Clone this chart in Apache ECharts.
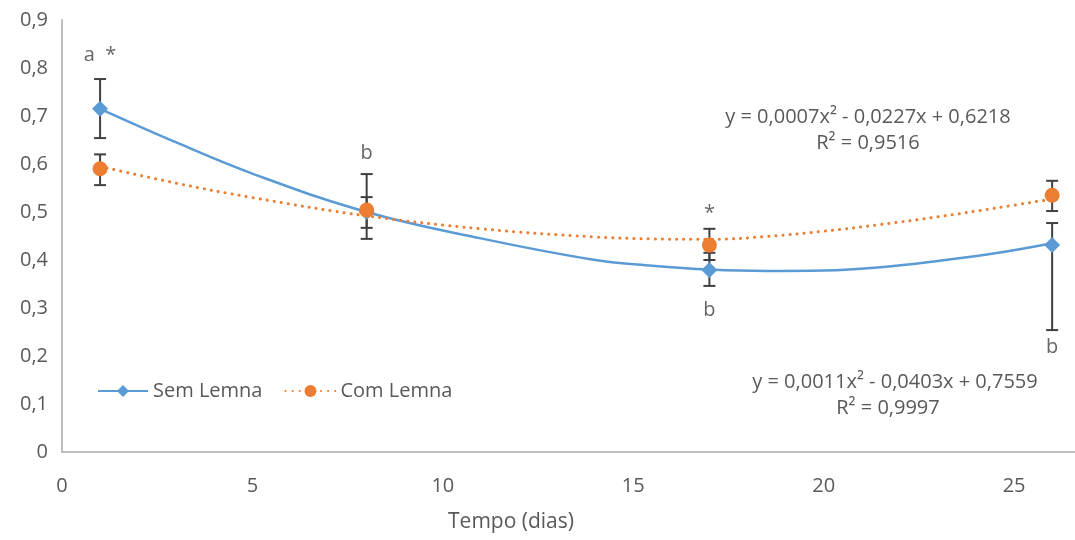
<!DOCTYPE html>
<html>
<head>
<meta charset="utf-8">
<script src="https://cdn.jsdelivr.net/npm/echarts@6/dist/echarts.min.js"></script>
<style>
  html, body { margin: 0; padding: 0; background: #fff; }
  #chart { width: 1075px; height: 540px; }
</style>
</head>
<body>
<div id="chart"></div>
<script>
// measured days
var days = [1, 8, 17, 26]
var semLemna = [0.715, 0.50, 0.379, 0.431]
var comLemna = [0.59, 0.504, 0.431, 0.535]
// error bars (low / high)
var semLow = [0.654, 0.467, 0.346, 0.254]
var semHigh = [0.777, 0.531, 0.415, 0.477]
var comLow = [0.556, 0.444, 0.400, 0.502]
var comHigh = [0.620, 0.579, 0.465, 0.565]
// trend curves
var trendX = [1, 3, 5, 8, 11, 14, 15.5, 17, 18.5, 20, 21.5, 23, 24.5, 26]
var semTrend = [0.715, 0.645, 0.58, 0.50, 0.445, 0.40, 0.388, 0.38, 0.377, 0.378, 0.385, 0.398, 0.414, 0.435]
var comTrend = [0.595, 0.56, 0.53, 0.492, 0.465, 0.448, 0.444, 0.443, 0.449, 0.46, 0.474, 0.49, 0.508, 0.527]
// letters / asterisks above the points
var noteX = [1, 8, 17, 17, 26]
var noteY = [0.826, 0.623, 0.498, 0.296, 0.219]
var noteText = ['a  *', 'b', '*', 'b', 'b']
var eqSem = ['y = 0,0011x\u00b2 - 0,0403x + 0,7559', 'R\u00b2 = 0,9997']
var eqCom = ['y = 0,0007x\u00b2 - 0,0227x + 0,6218', 'R\u00b2 = 0,9516']

var BLUE = '#5b9bd5'
var ORANGE = '#ed7d31'
var TXT = '#595959'
var FONT = 'Open Sans'

function zip(a, b) {
  var out = []
  for (var i = 0; i < a.length; i++) out.push([a[i], b[i]])
  return out
}
function bars(x, lo, hi) {
  var out = []
  for (var i = 0; i < x.length; i++) out.push([x[i], lo[i], hi[i]])
  return out
}
function renderBar(params, api) {
  var top = api.coord([api.value(0), api.value(2)])
  var bot = api.coord([api.value(0), api.value(1)])
  var w = 6
  var st = { stroke: '#404040', lineWidth: 2 }
  return {
    type: 'group',
    children: [
      { type: 'line', shape: { x1: top[0], y1: top[1], x2: bot[0], y2: bot[1] }, style: st },
      { type: 'line', shape: { x1: top[0] - w, y1: top[1], x2: top[0] + w, y2: top[1] }, style: st },
      { type: 'line', shape: { x1: bot[0] - w, y1: bot[1], x2: bot[0] + w, y2: bot[1] }, style: st }
    ]
  }
}
function txt(s, x, y, size) {
  return {
    type: 'text', x: x, y: y,
    style: { text: s, fill: TXT, fontSize: size, fontFamily: FONT, align: 'center', verticalAlign: 'middle' }
  }
}

var notes = []
for (var i = 0; i < noteX.length; i++) {
  notes.push({ name: noteText[i], value: [noteX[i], noteY[i]] })
}

var chart = echarts.init(document.getElementById('chart'))
chart.setOption({
  animation: false,
  textStyle: { fontFamily: FONT },
  // the original is cropped: axis runs to the right edge
  grid: { left: 62, top: 20, bottom: 88, right: 0, outerBoundsMode: 'none', containLabel: false },
  legend: {
    left: 92,
    top: 376,
    itemWidth: 50,
    itemHeight: 15,
    itemGap: 22,
    textStyle: { fontSize: 20, color: TXT, fontFamily: FONT },
    data: ['Sem Lemna', 'Com Lemna']
  },
  xAxis: {
    type: 'value',
    min: 0,
    max: 26.6,
    interval: 5,
    axisLine: { lineStyle: { color: '#bfbfbf', width: 2 } },
    axisTick: { show: false },
    splitLine: { show: false },
    axisLabel: { fontSize: 20, color: TXT, margin: 24, showMaxLabel: false }
  },
  yAxis: {
    type: 'value',
    min: 0,
    max: 0.9,
    interval: 0.1,
    axisLine: { show: true, lineStyle: { color: '#bfbfbf', width: 2 } },
    axisTick: { show: false },
    splitLine: { show: false },
    axisLabel: {
      fontSize: 20,
      color: TXT,
      margin: 14,
      formatter: function (v) { return v === 0 ? '0' : v.toFixed(1).replace('.', ',') }
    }
  },
  graphic: [
    txt(eqCom[0], 868, 117, 20),
    txt(eqCom[1], 868, 143, 20),
    txt(eqSem[0], 895, 382, 20),
    txt(eqSem[1], 888, 408, 20),
    txt('Tempo (dias)', 511, 522, 21)
  ],
  series: [
    {
      name: 'Sem Lemna',
      type: 'line',
      smooth: 0.4,
      symbol: 'diamond',
      symbolSize: 15,
      showSymbol: false,
      itemStyle: { color: BLUE },
      lineStyle: { color: BLUE, width: 2.5 },
      z: 2,
      data: zip(trendX, semTrend)
    },
    {
      name: 'Com Lemna',
      type: 'line',
      smooth: 0.4,
      symbol: 'circle',
      symbolSize: 14,
      showSymbol: false,
      itemStyle: { color: ORANGE },
      lineStyle: { color: ORANGE, width: 3, type: [0.1, 7], cap: 'round' },
      z: 2,
      data: zip(trendX, comTrend)
    },
    {
      type: 'custom',
      renderItem: renderBar,
      z: 3,
      data: bars(days, semLow, semHigh)
    },
    {
      type: 'custom',
      renderItem: renderBar,
      z: 3,
      data: bars(days, comLow, comHigh)
    },
    {
      name: 'Sem Lemna',
      type: 'scatter',
      symbol: 'diamond',
      symbolSize: 16,
      itemStyle: { color: BLUE, opacity: 1 },
      z: 4,
      data: zip(days, semLemna)
    },
    {
      name: 'Com Lemna',
      type: 'scatter',
      symbol: 'circle',
      symbolSize: 15,
      itemStyle: { color: ORANGE, opacity: 1 },
      z: 4,
      data: zip(days, comLemna)
    },
    {
      type: 'scatter',
      symbolSize: 0,
      silent: true,
      label: {
        show: true,
        position: 'inside',
        formatter: function (p) { return p.name },
        fontSize: 20,
        color: '#404040',
        fontFamily: FONT
      },
      data: notes
    }
  ]
})
</script>
</body>
</html>
